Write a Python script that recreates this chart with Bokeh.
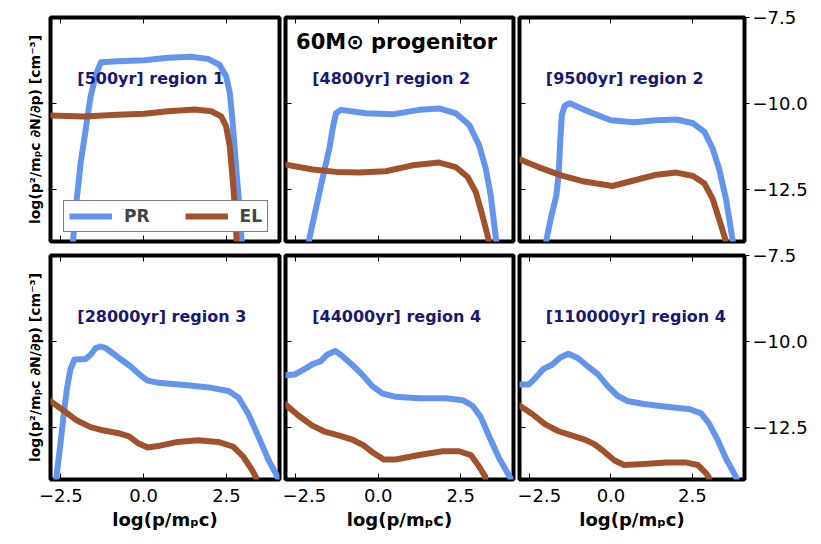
from bokeh.plotting import figure
from bokeh.models import Range1d, LinearAxis, FixedTicker, Label, Legend, LegendItem
from bokeh.layouts import column, row
from bokeh.embed import file_html
from bokeh.resources import INLINE

FONT = "DejaVu Sans"
PR_COLOR = "#6495ED"
EL_COLOR = "#A0522D"
TXT_COLOR = "#191970"

X_TICKS = [-2.5, 0.0, 2.5]
X_TICK_LABELS = {-2.5: "\u22122.5", 0.0: "0.0", 2.5: "2.5"}
Y_TICKS = [-12.5, -10.0, -7.5]
Y_TICK_LABELS = {-12.5: "\u221212.5", -10.0: "\u221210.0", -7.5: "\u22127.5"}

panel_labels = ["[500yr] region 1", "[4800yr] region 2", "[9500yr] region 2",
                "[28000yr] region 3", "[44000yr] region 4", "[110000yr] region 4"]
title_text = "60M\u2299 progenitor"
xlabel = "log(p/m\u209ac)"
ylabel = "log(p\u00b2/m\u209ac \u2202N/\u2202p) [cm\u207b\u00b3]"
series_names = ["PR", "EL"]

# panel 1: 500 yr
pr_x_1 = [-2.14, -2.12, -2.02, -1.90, -1.75, -1.60, -1.44, -1.29, -0.79, 0.02, 0.73, 1.43, 1.94, 2.29, 2.49, 2.60, 2.67, 2.75, 2.83, 2.90, 2.95, 2.97]
pr_y_1 = [-14.2, -13.86, -12.79, -11.72, -10.76, -9.79, -9.16, -8.80, -8.77, -8.74, -8.67, -8.64, -8.70, -8.87, -9.21, -9.69, -10.37, -11.34, -12.31, -13.08, -13.86, -14.2]
el_x_1 = [-2.85, -1.80, -0.79, 0.02, 0.73, 1.54, 2.04, 2.34, 2.49, 2.60, 2.68, 2.75, 2.80, 2.82]
el_y_1 = [-10.34, -10.37, -10.32, -10.29, -10.22, -10.17, -10.22, -10.37, -10.66, -11.24, -12.11, -12.98, -13.86, -14.2]

# panel 2: 4800 yr
pr_x_2 = [-2.12, -2.09, -1.89, -1.69, -1.48, -1.38, -1.28, -1.13, -0.37, 0.43, 1.24, 1.85, 2.35, 2.76, 3.06, 3.26, 3.41, 3.57, 3.60]
pr_y_2 = [-14.2, -13.93, -13.05, -12.18, -11.30, -10.72, -10.28, -10.18, -10.28, -10.31, -10.18, -10.14, -10.28, -10.62, -11.21, -11.89, -12.67, -13.93, -14.2]
el_x_2 = [-2.85, -1.99, -1.28, -0.58, 0.23, 1.04, 1.85, 2.35, 2.71, 2.96, 3.16, 3.34, 3.38]
el_y_2 = [-11.76, -11.91, -11.98, -12.00, -11.96, -11.79, -11.71, -11.84, -12.13, -12.57, -13.25, -13.93, -14.2]

# panel 3: 9500 yr
pr_x_3 = [-2.01, -1.98, -1.83, -1.68, -1.61, -1.56, -1.51, -1.42, -1.27, -0.82, -0.01, 0.70, 1.40, 2.01, 2.52, 2.87, 3.12, 3.32, 3.53, 3.73, 3.77]
pr_y_3 = [-14.2, -13.93, -13.25, -12.67, -12.08, -11.11, -10.33, -10.06, -9.99, -10.18, -10.48, -10.54, -10.48, -10.46, -10.57, -10.82, -11.30, -11.89, -12.76, -13.93, -14.2]
el_x_3 = [-2.85, -2.23, -1.53, -0.82, 0.04, 0.70, 1.40, 2.01, 2.52, 2.87, 3.12, 3.32, 3.51, 3.55]
el_y_3 = [-11.60, -11.84, -12.08, -12.26, -12.39, -12.23, -12.06, -12.00, -12.10, -12.32, -12.76, -13.35, -13.93, -14.2]

# panel 4: 28000 yr
pr_x_4 = [-2.65, -2.62, -2.52, -2.41, -2.31, -2.21, -2.09, -1.91, -1.75, -1.60, -1.45, -1.30, -1.14, -0.94, -0.69, -0.39, -0.13, 0.12, 0.43, 1.24, 2.05, 2.56, 2.86, 3.16, 3.47, 3.77, 4.03, 4.1]
pr_y_4 = [-14.2, -13.82, -13.05, -12.10, -11.34, -10.81, -10.52, -10.51, -10.50, -10.38, -10.19, -10.14, -10.19, -10.33, -10.51, -10.72, -10.95, -11.13, -11.19, -11.26, -11.34, -11.43, -11.62, -12.10, -12.77, -13.44, -13.91, -14.05]
el_x_4 = [-2.85, -2.41, -2.01, -1.60, -1.20, -0.79, -0.44, -0.18, 0.12, 0.43, 1.03, 1.64, 2.25, 2.71, 3.01, 3.27, 3.39, 3.42]
el_y_4 = [-11.70, -12.00, -12.29, -12.48, -12.58, -12.65, -12.75, -12.94, -13.07, -13.03, -12.91, -12.86, -12.91, -13.05, -13.34, -13.72, -13.93, -14.2]

# panel 5: 44000 yr
pr_x_5 = [-2.85, -2.52, -2.21, -1.96, -1.75, -1.55, -1.30, -1.10, -0.79, -0.49, -0.18, 0.12, 0.53, 1.24, 2.05, 2.56, 2.86, 3.11, 3.37, 3.67, 3.98, 4.05]
pr_y_5 = [-10.98, -10.95, -10.78, -10.64, -10.57, -10.38, -10.27, -10.41, -10.67, -10.95, -11.29, -11.50, -11.60, -11.64, -11.64, -11.70, -11.86, -12.19, -12.77, -13.39, -13.91, -14.05]
el_x_5 = [-2.85, -2.41, -2.01, -1.60, -1.20, -0.79, -0.44, -0.13, 0.17, 0.53, 1.24, 1.95, 2.45, 2.81, 3.06, 3.24, 3.27]
el_y_5 = [-11.79, -12.15, -12.43, -12.62, -12.72, -12.84, -13.01, -13.24, -13.42, -13.42, -13.29, -13.18, -13.18, -13.29, -13.63, -13.91, -14.2]

# panel 6: 110000 yr
pr_x_6 = [-2.85, -2.52, -2.32, -2.07, -1.81, -1.56, -1.31, -1.01, -0.71, -0.40, -0.10, 0.20, 0.50, 1.01, 1.71, 2.42, 2.77, 3.02, 3.28, 3.53, 3.83, 3.87]
pr_y_6 = [-11.24, -11.24, -11.05, -10.79, -10.67, -10.46, -10.35, -10.48, -10.72, -10.95, -11.29, -11.57, -11.72, -11.81, -11.89, -11.96, -12.08, -12.39, -12.86, -13.39, -13.91, -14.05]
el_x_6 = [-2.85, -2.42, -2.02, -1.61, -1.21, -0.81, -0.50, -0.20, 0.10, 0.40, 1.01, 1.71, 2.32, 2.67, 2.90, 3.00, 3.03]
el_y_6 = [-11.83, -12.10, -12.40, -12.60, -12.72, -12.84, -12.98, -13.20, -13.44, -13.58, -13.55, -13.51, -13.51, -13.58, -13.80, -13.93, -14.2]

PR = [(pr_x_1, pr_y_1), (pr_x_2, pr_y_2), (pr_x_3, pr_y_3), (pr_x_4, pr_y_4), (pr_x_5, pr_y_5), (pr_x_6, pr_y_6)]
EL = [(el_x_1, el_y_1), (el_x_2, el_y_2), (el_x_3, el_y_3), (el_x_4, el_y_4), (el_x_5, el_y_5), (el_x_6, el_y_6)]

X_RANGE = (-2.81, 4.1)
Y_RANGE = (-14.0, -7.5)

# layout geometry: (border_before, frame, border_after)
COLS = [(50, 229, 3), (3, 228, 4), (2, 228, 63)]
ROWS = [(17, 224, 3), (11, 224, 56)]


def tick_axis(ticks, tick_in, tick_out, labels=None, font_size="18px"):
    ax = LinearAxis(ticker=FixedTicker(ticks=ticks))
    ax.axis_line_color = None
    ax.major_tick_in = tick_in
    ax.major_tick_out = tick_out
    ax.major_tick_line_color = "black"
    ax.major_tick_line_width = 1
    ax.minor_tick_line_color = None
    if labels is None:
        ax.major_label_overrides = {t: "" for t in ticks}
        ax.major_label_standoff = 0
    else:
        ax.major_label_overrides = labels
        ax.major_label_text_font = FONT
        ax.major_label_text_font_size = font_size
        ax.major_label_text_color = "black"
    return ax


figs = []
for i in range(6):
    r, c = divmod(i, 3)
    bl, fw, br = COLS[c]
    bt, fh, bb = ROWS[r]
    p = figure(width=bl + fw + br, height=bt + fh + bb,
               x_range=Range1d(*X_RANGE), y_range=Range1d(*Y_RANGE),
               x_axis_location=None, y_axis_location=None,
               output_backend="svg", toolbar_location=None,
               min_border_left=bl, min_border_right=br,
               min_border_top=bt, min_border_bottom=bb)
    p.grid.visible = False
    p.background_fill_color = "white"
    p.border_fill_color = "white"
    p.outline_line_color = "black"
    p.outline_line_width = 4

    # left axis (ticks inside)
    la = tick_axis(Y_TICKS, 6, 0)
    if c == 0:
        la.axis_label = ylabel
        la.axis_label_text_font = FONT
        la.axis_label_text_font_style = "bold"
        la.axis_label_text_font_size = "14px"
        la.axis_label_text_color = "black"
        la.axis_label_standoff = 8
    p.add_layout(la, "left")

    # top axis (ticks inside)
    p.add_layout(tick_axis(X_TICKS, 6, 0), "above")

    # bottom axis
    if r == 1:
        ba = tick_axis(X_TICKS, 6, 0, X_TICK_LABELS)
        ba.major_label_standoff = 9
        ba.axis_label = xlabel
        ba.axis_label_text_font = FONT
        ba.axis_label_text_font_style = "bold"
        ba.axis_label_text_font_size = "18px"
        ba.axis_label_text_color = "black"
        ba.axis_label_standoff = 4
    else:
        ba = tick_axis(X_TICKS, 6, 0)
    p.add_layout(ba, "below")

    # right axis for last column
    if c == 2:
        ra = tick_axis(Y_TICKS, 0, 5, Y_TICK_LABELS)
        ra.major_label_standoff = 3
        p.add_layout(ra, "right")

    px, py = PR[i]
    ex, ey = EL[i]
    r_pr = p.line(px, py, line_color=PR_COLOR, line_width=6, line_join="round")
    r_el = p.line(ex, ey, line_color=EL_COLOR, line_width=6, line_join="round")

    p.add_layout(Label(x=-2.0, y=-9.27, text=panel_labels[i], text_font=FONT,
                       text_font_style="bold", text_font_size="16px",
                       text_color=TXT_COLOR, text_align="left", text_baseline="middle"))

    if i == 1:
        p.add_layout(Label(x=-2.49, y=-8.22, text=title_text, text_font=FONT,
                           text_font_style="bold", text_font_size="21px",
                           text_color="black", text_align="left", text_baseline="middle"))

    if i == 0:
        leg = Legend(items=[LegendItem(label=series_names[0], renderers=[r_pr]),
                            LegendItem(label=series_names[1], renderers=[r_el])],
                     location=(13, 9), orientation="horizontal")
        leg.margin = 0
        leg.padding = 5
        leg.spacing = 35
        leg.label_standoff = 12
        leg.glyph_width = 43
        leg.glyph_height = 20
        leg.label_height = 20
        leg.label_text_font = FONT
        leg.label_text_font_style = "bold"
        leg.label_text_font_size = "17px"
        leg.border_line_color = "black"
        leg.border_line_width = 1
        leg.background_fill_color = "white"
        leg.background_fill_alpha = 1.0
        p.add_layout(leg, "center")

    figs.append(p)

layout = column(row(*figs[:3]), row(*figs[3:]))

with open("out.html", "w") as f:
    f.write(file_html(layout, INLINE))
